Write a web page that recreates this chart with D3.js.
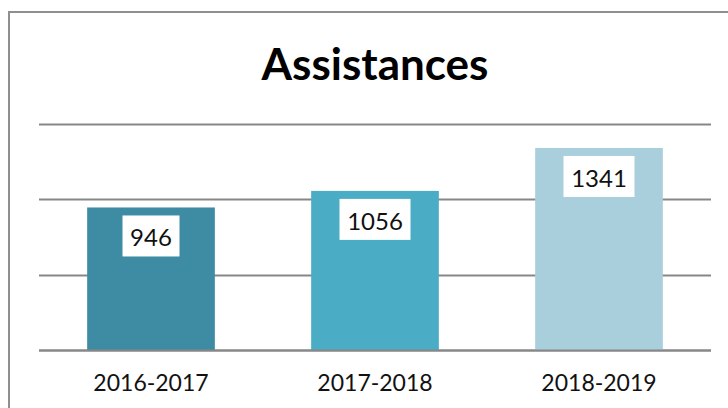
<!DOCTYPE html>
<html><head><meta charset="utf-8">
<script src="https://cdn.jsdelivr.net/npm/d3@7"></script>
<style>body{margin:0;background:#fff}svg{display:block}</style>
</head><body>
<svg id="c" width="728" height="408"></svg>
<script>
const title = "Assistances";
const categories = ["2016-2017", "2017-2018", "2018-2019"];
const values = [946, 1056, 1341];
const barColors = ["#3d8ca4", "#4bacc6", "#a9cfdd"];
const yTicks = [0, 500, 1000, 1500];

const svg = d3.select("#c");
const W = 728, H = 408;
const m = {left: 39, right: 17, top: 124, bottom: 58};

svg.append("rect").attr("x", 9).attr("y", 12).attr("width", 740).attr("height", 420)
  .attr("fill", "#fff").attr("stroke", "#8f8f8f").attr("stroke-width", 2);

const x = d3.scaleBand().domain(categories).range([m.left, W - m.right]).paddingInner(0.43).paddingOuter(0.215);
const y = d3.scaleLinear().domain([0, 1500]).range([H - m.bottom, m.top]);

svg.append("g").selectAll("line").data(yTicks).join("line")
  .attr("x1", m.left).attr("x2", W - m.right)
  .attr("y1", d => Math.round(y(d)) + 0.5).attr("y2", d => Math.round(y(d)) + 0.5)
  .attr("stroke", "#878787").attr("stroke-width", 2);

svg.append("g").selectAll("rect").data(values).join("rect")
  .attr("x", (d, i) => x(categories[i]))
  .attr("width", x.bandwidth())
  .attr("y", d => y(d))
  .attr("height", d => y(0) - y(d))
  .attr("fill", (d, i) => barColors[i]);

svg.append("line").attr("x1", m.left).attr("x2", W - m.right)
  .attr("y1", Math.round(y(0)) + 0.5).attr("y2", Math.round(y(0)) + 0.5)
  .attr("stroke", "#878787").attr("stroke-width", 2);

const lab = svg.append("g").selectAll("g").data(values).join("g");
lab.each(function(d, i) {
  const g = d3.select(this);
  const cx = x(categories[i]) + x.bandwidth() / 2;
  g.append("text").attr("x", cx).attr("y", y(d) + 39)
    .attr("text-anchor", "middle").attr("font-family", "Lato").attr("font-size", 24)
    .attr("fill", "#111").text(d);
  const bw = String(d).length === 3 ? 57 : 71;
  g.insert("rect", "text").attr("x", cx - bw / 2).attr("y", y(d) + 8)
    .attr("width", bw).attr("height", 41).attr("fill", "#fff");
});

svg.append("g").selectAll("text").data(categories).join("text")
  .attr("x", d => x(d) + x.bandwidth() / 2).attr("y", 391)
  .attr("text-anchor", "middle").attr("font-family", "Lato").attr("font-size", 23)
  .attr("fill", "#111").text(d => d);

svg.append("text").attr("x", 375).attr("y", 80).attr("text-anchor", "middle")
  .attr("font-family", "Lato").attr("font-weight", 700).attr("font-size", 44)
  .attr("fill", "#000").text(title);
</script>
</body></html>
